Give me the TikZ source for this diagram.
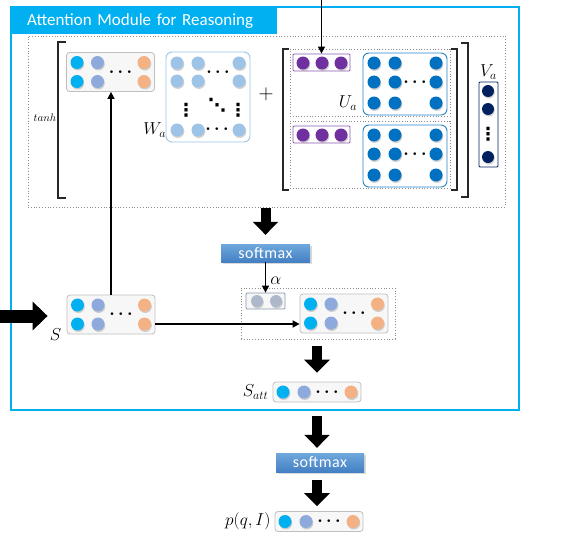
\documentclass[tikz,border=0pt]{standalone}
\usepackage{fontspec}
\setmainfont{Carlito}
\newfontfamily\smfont{Carlito}[LetterSpace=3.0]
\newfontfamily\symfont{DejaVu Sans}
\usetikzlibrary{shapes,arrows.meta,positioning,shadows,calc}
\definecolor{framecyan}{RGB}{0,176,240}
\definecolor{dotcyan}{RGB}{0,176,240}
\definecolor{dotlav}{RGB}{142,169,219}
\definecolor{dotpeach}{RGB}{244,177,131}
\definecolor{dotlight}{RGB}{157,195,230}
\definecolor{dotblue}{RGB}{0,112,192}
\definecolor{dotpurple}{RGB}{112,48,160}
\definecolor{dotnavy}{RGB}{0,32,96}
\definecolor{dotgray}{RGB}{173,185,202}
\definecolor{alphaedge}{RGB}{132,151,176}
\definecolor{smtop}{RGB}{111,168,220}
\definecolor{smbot}{RGB}{68,128,196}

\begin{document}
\begin{tikzpicture}[x=1pt, y=-1pt,
    dot/.style={circle, inner sep=0pt, minimum size=13pt, drop shadow={shadow xshift=0.8pt, shadow yshift=-1.5pt, opacity=0.35}},
    vecbox/.style={rectangle, rounded corners=3pt, draw=black!25, fill=black!3, line width=0.8pt, inner sep=0pt},
    matbox/.style={rectangle, rounded corners=6pt, fill=white, line width=0.9pt, inner sep=0pt},
    dotbox/.style={rectangle, draw=black!45, dotted, line width=0.8pt, inner sep=0pt},
    softmax/.style={rectangle, top color=smtop, bottom color=smbot, text=white, inner sep=0pt, font=\smfont\fontsize{16}{18}\selectfont, drop shadow={opacity=0.3}},
    lbl/.style={inner sep=1pt, font=\fontsize{17}{20}\selectfont},
    ell/.style={inner sep=0pt, font=\boldmath\fontsize{17}{20}\selectfont},
    vell/.style={inner sep=0pt, font=\symfont\bfseries\fontsize{18}{19}\selectfont},
    bracket/.style={line width=1.4pt, black!85},
    link/.style={line width=1.5pt, -{Triangle[width=7pt,length=7pt]}},
    block/.style={line width=10pt, -{Triangle[width=25pt,length=13pt]}}]
  \useasboundingbox (0,0) rectangle (565,544);

  % module frame
  \draw[framecyan, line width=1.6pt] (11,7) rectangle (519,410);
  \node[anchor=north west, fill=framecyan, text=white, text width=234pt, inner xsep=16pt, minimum height=27pt, align=left, font=\fontsize{17}{20}\selectfont] (title) at (11,7) {Attention Module for Reasoning};

  % tanh block
  \node[dotbox, minimum width=477pt, minimum height=171pt] (tanhbox) at (266.5,121.5) {};
  \node[lbl, font=\fontsize{11}{13}\selectfont] (tanh) at (45,118) {$tanh$};
  \draw[bracket] (66,42) -- (58,42) -- (58,198) -- (66,198);
  \draw[bracket] (461,43) -- (468,43) -- (468,197) -- (461,197);

  % 2-row vectors: h, S and S again
  \foreach \nm/\cx/\cy in {h/110.5/72, s/111/314.5, g/344/313.5} {
    \node[vecbox, minimum width=88pt, minimum height=39pt] (\nm-box) at (\cx,\cy) {};
    \foreach \cl/\dx/\clr in {1/-33.5/dotcyan, 2/-13/dotlav, 3/33.5/dotpeach}
      \foreach \rw/\dy in {1/-9.5, 2/9.5}
        \node[dot, fill=\clr] (\nm-\rw-\cl) at (\cx+\dx,\cy+\dy) {};
    \node[ell] (\nm-dots) at (\cx+10,\cy) {$\cdots$};
  }

  % W_a
  \node[matbox, draw=dotlight, minimum width=84pt, minimum height=90pt] (wbox) at (208,97) {};
  \foreach \cl/\x in {1/177, 2/198, 3/239}
    \foreach \rw/\y in {1/63, 2/81, 3/130}
      \node[dot, fill=dotlight] (w-\rw-\cl) at (\x,\y) {};
  \node[ell] (wdots1) at (218,72) {$\cdots$};
  \node[ell] (wdots2) at (217,129) {$\cdots$};
  \node[vell] (wdots3) at (186,110) {⋮};
  \node[vell] (wdots4) at (238,110) {⋮};
  \node[vell] (wdots5) at (217,105) {⋱};
  \node[lbl, left=3pt of w-3-1.west] (wa) {$W_a$};
  \node[lbl, font=\fontsize{20}{22}\selectfont] (plus) at (266,94) {$+$};

  % q and U_a
  \draw[bracket] (289,49) -- (283,49) -- (283,190) -- (289,190);
  \draw[bracket] (451,49) -- (457,49) -- (457,190) -- (451,190);
  \foreach \k/\yo in {1/0, 2/72} {
    \node[dotbox, minimum width=160pt, minimum height=67pt] (zone\k) at (370,82.5+\yo) {};
    \node[vecbox, draw=dotpurple!80, fill=white, rounded corners=1pt, minimum width=57pt, minimum height=17pt] (qvec\k) at (321.5,62.5+\yo) {};
    \foreach \cl/\x in {1/303, 2/322, 3/341}
      \node[dot, fill=dotpurple] (q\k-\cl) at (\x,63+\yo) {};
    \node[matbox, draw=dotblue!85, minimum width=84pt, minimum height=62pt] (ubox\k) at (405,84+\yo) {};
    \foreach \cl/\x in {1/374, 2/395, 3/436}
      \foreach \rw/\y in {1/63, 2/82, 3/103}
        \node[dot, fill=dotblue] (u\k-\rw-\cl) at (\x,\y+\yo) {};
    \node[ell] (udots\k) at (415,82+\yo) {$\cdots$};
  }
  \node[lbl, left=9pt of u1-3-1.west] (ua) {$U_a$};

  % V_a
  \node[vecbox, draw=dotnavy, fill=white, rounded corners=1pt, minimum width=19pt, minimum height=85pt] (vbox) at (488.5,124.5) {};
  \foreach \rw/\y in {1/91, 2/109, 3/157}
    \node[dot, fill=dotnavy, minimum size=12pt] (v-\rw) at (488,\y) {};
  \node[vell] (vdots) at (488,134) {⋮};
  \node[lbl, above=1pt of vbox.north] (va) {$V_a$};

  % attention weights
  \node[softmax, minimum width=89pt, minimum height=18pt] (sm1) at (265.5,253) {softmax};
  \node[dotbox, minimum width=154pt, minimum height=51pt] (attnbox) at (318,313.5) {};
  \node[vecbox, draw=alphaedge, rounded corners=1pt, minimum width=39pt, minimum height=16pt] (avec) at (265.5,301) {};
  \foreach \cl/\x in {1/257, 2/276}
    \node[dot, fill=dotgray, minimum size=12pt] (a-\cl) at (\x,301) {};
  \node[lbl, left=4pt of s-box.south west] (slabel) {$S$};

  % output vectors
  \node[softmax, minimum width=88pt, minimum height=19pt] (sm2) at (320,462.5) {softmax};
  \foreach \nm/\cx/\cy in {satt/317/392, p/319/521.5} {
    \node[vecbox, minimum width=88pt, minimum height=20pt] (\nm-box) at (\cx,\cy) {};
    \foreach \cl/\dx/\clr in {1/-34/dotcyan, 2/-13/dotlav, 3/34/dotpeach}
      \node[dot, fill=\clr] (\nm-\cl) at (\cx+\dx,\cy) {};
    \node[ell] (\nm-dots) at (\cx+10,\cy) {$\cdots$};
  }
  \node[lbl, left=3pt of satt-box.west] (sattlabel) {$S_{att}$};
  \node[lbl, left=3pt of p-box.west, font=\fontsize{18}{20}\selectfont] (plabel) {$p(q,I)$};

  % connectors
  \coordinate (qin) at (321.5,0);
  \coordinate (sin) at (0,316);
  \draw[link] (qin) -- (qvec1.north);
  \draw[line width=13pt, -{Triangle[width=28pt,length=15pt]}, shorten >=19pt] (sin) -- (sin -| s-box.west);
  \draw[link] (s-box.north) -- (s-box.north |- h-box.south);
  \draw[link] (s-box.east |- s-2-3) -- (g-box.west |- s-2-3);
  \draw[link] (sm1.south) -- node[lbl, right=3pt, pos=0.6, font=\fontsize{16}{18}\selectfont] (alpha) {$\alpha$} (avec.north);
  \draw[block, shorten <=1pt, shorten >=9pt] (tanhbox.south -| sm1) -- (sm1.north);
  \draw[block, shorten <=7pt, shorten >=9pt] (attnbox.south -| satt-box) -- (satt-box.north);
  \draw[block, shorten <=14pt, shorten >=5pt] (satt-box.south) -- (satt-box.south |- sm2.north);
  \draw[block, shorten <=8pt, shorten >=5pt] (sm2.south -| satt-box) -- (satt-box |- p-box.north);
\end{tikzpicture}
\end{document}
